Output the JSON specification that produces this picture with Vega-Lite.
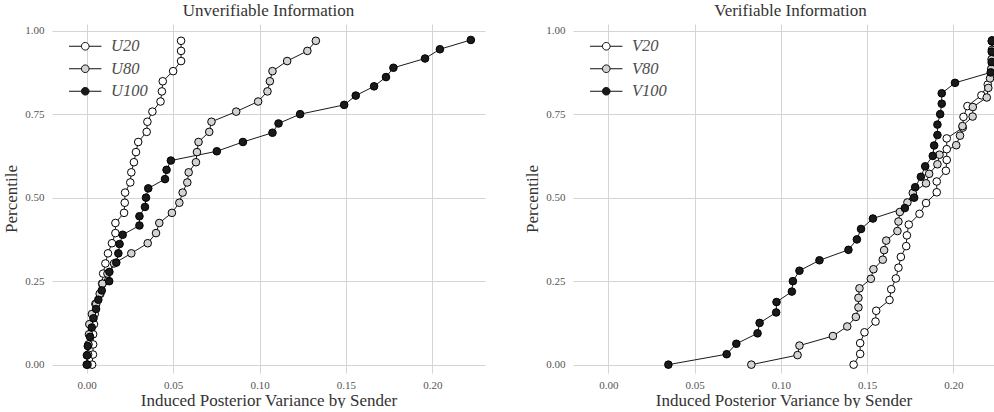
{
  "$schema": "https://vega.github.io/schema/vega-lite/v6.json",
  "background": "white",
  "padding": {"left": 2, "top": 2, "right": 0, "bottom": 0},
  "datasets": {
    "unver": [
      {"s": "U20", "x": 0.0031, "p": 0.0000}, {"s": "U20", "x": 0.0036, "p": 0.0303}, {"s": "U20", "x": 0.0037, "p": 0.0606},
      {"s": "U20", "x": 0.0037, "p": 0.0909}, {"s": "U20", "x": 0.0042, "p": 0.1212}, {"s": "U20", "x": 0.0046, "p": 0.1515},
      {"s": "U20", "x": 0.0050, "p": 0.1818}, {"s": "U20", "x": 0.0079, "p": 0.2121}, {"s": "U20", "x": 0.0089, "p": 0.2424},
      {"s": "U20", "x": 0.0095, "p": 0.2727}, {"s": "U20", "x": 0.0108, "p": 0.3030}, {"s": "U20", "x": 0.0123, "p": 0.3333},
      {"s": "U20", "x": 0.0146, "p": 0.3636}, {"s": "U20", "x": 0.0166, "p": 0.3939}, {"s": "U20", "x": 0.0166, "p": 0.4242},
      {"s": "U20", "x": 0.0216, "p": 0.4545}, {"s": "U20", "x": 0.0220, "p": 0.4848}, {"s": "U20", "x": 0.0222, "p": 0.5152},
      {"s": "U20", "x": 0.0252, "p": 0.5455}, {"s": "U20", "x": 0.0258, "p": 0.5758}, {"s": "U20", "x": 0.0273, "p": 0.6061},
      {"s": "U20", "x": 0.0285, "p": 0.6364}, {"s": "U20", "x": 0.0298, "p": 0.6667}, {"s": "U20", "x": 0.0347, "p": 0.6970},
      {"s": "U20", "x": 0.0351, "p": 0.7273}, {"s": "U20", "x": 0.0380, "p": 0.7576}, {"s": "U20", "x": 0.0427, "p": 0.7879},
      {"s": "U20", "x": 0.0435, "p": 0.8182}, {"s": "U20", "x": 0.0440, "p": 0.8485}, {"s": "U20", "x": 0.0500, "p": 0.8788},
      {"s": "U20", "x": 0.0546, "p": 0.9091}, {"s": "U20", "x": 0.0546, "p": 0.9394}, {"s": "U20", "x": 0.0546, "p": 0.9697},
      {"s": "U80", "x": 0.0005, "p": 0.0000}, {"s": "U80", "x": 0.0008, "p": 0.0303}, {"s": "U80", "x": 0.0010, "p": 0.0606},
      {"s": "U80", "x": 0.0013, "p": 0.0909}, {"s": "U80", "x": 0.0015, "p": 0.1212}, {"s": "U80", "x": 0.0030, "p": 0.1515},
      {"s": "U80", "x": 0.0055, "p": 0.1818}, {"s": "U80", "x": 0.0075, "p": 0.2121}, {"s": "U80", "x": 0.0091, "p": 0.2424},
      {"s": "U80", "x": 0.0120, "p": 0.2727}, {"s": "U80", "x": 0.0158, "p": 0.3030}, {"s": "U80", "x": 0.0258, "p": 0.3333},
      {"s": "U80", "x": 0.0353, "p": 0.3636}, {"s": "U80", "x": 0.0401, "p": 0.3939}, {"s": "U80", "x": 0.0420, "p": 0.4242},
      {"s": "U80", "x": 0.0493, "p": 0.4545}, {"s": "U80", "x": 0.0536, "p": 0.4848}, {"s": "U80", "x": 0.0555, "p": 0.5152},
      {"s": "U80", "x": 0.0582, "p": 0.5455}, {"s": "U80", "x": 0.0590, "p": 0.5758}, {"s": "U80", "x": 0.0632, "p": 0.6061},
      {"s": "U80", "x": 0.0638, "p": 0.6364}, {"s": "U80", "x": 0.0647, "p": 0.6667}, {"s": "U80", "x": 0.0709, "p": 0.6970},
      {"s": "U80", "x": 0.0722, "p": 0.7273}, {"s": "U80", "x": 0.0865, "p": 0.7576}, {"s": "U80", "x": 0.0992, "p": 0.7879},
      {"s": "U80", "x": 0.1046, "p": 0.8182}, {"s": "U80", "x": 0.1060, "p": 0.8485}, {"s": "U80", "x": 0.1075, "p": 0.8788},
      {"s": "U80", "x": 0.1160, "p": 0.9091}, {"s": "U80", "x": 0.1277, "p": 0.9394}, {"s": "U80", "x": 0.1326, "p": 0.9697},
      {"s": "U100", "x": 0.0000, "p": 0.0000}, {"s": "U100", "x": 0.0001, "p": 0.0278}, {"s": "U100", "x": 0.0006, "p": 0.0556},
      {"s": "U100", "x": 0.0019, "p": 0.0833}, {"s": "U100", "x": 0.0029, "p": 0.1111}, {"s": "U100", "x": 0.0039, "p": 0.1389},
      {"s": "U100", "x": 0.0054, "p": 0.1667}, {"s": "U100", "x": 0.0067, "p": 0.1944}, {"s": "U100", "x": 0.0087, "p": 0.2222},
      {"s": "U100", "x": 0.0130, "p": 0.2500}, {"s": "U100", "x": 0.0131, "p": 0.2778}, {"s": "U100", "x": 0.0171, "p": 0.3056},
      {"s": "U100", "x": 0.0183, "p": 0.3333}, {"s": "U100", "x": 0.0190, "p": 0.3611}, {"s": "U100", "x": 0.0208, "p": 0.3889},
      {"s": "U100", "x": 0.0305, "p": 0.4167}, {"s": "U100", "x": 0.0305, "p": 0.4444}, {"s": "U100", "x": 0.0337, "p": 0.4722},
      {"s": "U100", "x": 0.0343, "p": 0.5000}, {"s": "U100", "x": 0.0356, "p": 0.5278}, {"s": "U100", "x": 0.0453, "p": 0.5556},
      {"s": "U100", "x": 0.0462, "p": 0.5833}, {"s": "U100", "x": 0.0487, "p": 0.6111}, {"s": "U100", "x": 0.0753, "p": 0.6389},
      {"s": "U100", "x": 0.0904, "p": 0.6667}, {"s": "U100", "x": 0.1075, "p": 0.6944}, {"s": "U100", "x": 0.1110, "p": 0.7222},
      {"s": "U100", "x": 0.1235, "p": 0.7500}, {"s": "U100", "x": 0.1490, "p": 0.7778}, {"s": "U100", "x": 0.1557, "p": 0.8056},
      {"s": "U100", "x": 0.1663, "p": 0.8333}, {"s": "U100", "x": 0.1732, "p": 0.8611}, {"s": "U100", "x": 0.1775, "p": 0.8889},
      {"s": "U100", "x": 0.1958, "p": 0.9167}, {"s": "U100", "x": 0.2044, "p": 0.9444}, {"s": "U100", "x": 0.2223, "p": 0.9722}
    ],
    "ver": [
      {"s": "V20", "x": 0.1422, "p": 0.0000}, {"s": "V20", "x": 0.1460, "p": 0.0323}, {"s": "V20", "x": 0.1460, "p": 0.0645},
      {"s": "V20", "x": 0.1485, "p": 0.0968}, {"s": "V20", "x": 0.1549, "p": 0.1290}, {"s": "V20", "x": 0.1553, "p": 0.1613},
      {"s": "V20", "x": 0.1630, "p": 0.1935}, {"s": "V20", "x": 0.1640, "p": 0.2258}, {"s": "V20", "x": 0.1667, "p": 0.2581},
      {"s": "V20", "x": 0.1682, "p": 0.2903}, {"s": "V20", "x": 0.1696, "p": 0.3226}, {"s": "V20", "x": 0.1727, "p": 0.3548},
      {"s": "V20", "x": 0.1731, "p": 0.3871}, {"s": "V20", "x": 0.1742, "p": 0.4194}, {"s": "V20", "x": 0.1804, "p": 0.4516},
      {"s": "V20", "x": 0.1842, "p": 0.4839}, {"s": "V20", "x": 0.1904, "p": 0.5161}, {"s": "V20", "x": 0.1904, "p": 0.5484},
      {"s": "V20", "x": 0.1957, "p": 0.5806}, {"s": "V20", "x": 0.1962, "p": 0.6129}, {"s": "V20", "x": 0.1962, "p": 0.6452},
      {"s": "V20", "x": 0.1962, "p": 0.6774}, {"s": "V20", "x": 0.2055, "p": 0.7097}, {"s": "V20", "x": 0.2059, "p": 0.7419},
      {"s": "V20", "x": 0.2082, "p": 0.7742}, {"s": "V20", "x": 0.2163, "p": 0.8065}, {"s": "V20", "x": 0.2200, "p": 0.8387},
      {"s": "V20", "x": 0.2222, "p": 0.8710}, {"s": "V20", "x": 0.2224, "p": 0.9032}, {"s": "V20", "x": 0.2225, "p": 0.9355},
      {"s": "V20", "x": 0.2225, "p": 0.9677},
      {"s": "V80", "x": 0.0829, "p": 0.0000}, {"s": "V80", "x": 0.1097, "p": 0.0286}, {"s": "V80", "x": 0.1108, "p": 0.0571},
      {"s": "V80", "x": 0.1302, "p": 0.0857}, {"s": "V80", "x": 0.1385, "p": 0.1143}, {"s": "V80", "x": 0.1435, "p": 0.1429},
      {"s": "V80", "x": 0.1450, "p": 0.1714}, {"s": "V80", "x": 0.1450, "p": 0.2000}, {"s": "V80", "x": 0.1456, "p": 0.2286},
      {"s": "V80", "x": 0.1522, "p": 0.2571}, {"s": "V80", "x": 0.1537, "p": 0.2857}, {"s": "V80", "x": 0.1591, "p": 0.3143},
      {"s": "V80", "x": 0.1599, "p": 0.3429}, {"s": "V80", "x": 0.1611, "p": 0.3714}, {"s": "V80", "x": 0.1676, "p": 0.4000},
      {"s": "V80", "x": 0.1682, "p": 0.4286}, {"s": "V80", "x": 0.1690, "p": 0.4571}, {"s": "V80", "x": 0.1734, "p": 0.4857},
      {"s": "V80", "x": 0.1765, "p": 0.5143}, {"s": "V80", "x": 0.1842, "p": 0.5429}, {"s": "V80", "x": 0.1860, "p": 0.5714},
      {"s": "V80", "x": 0.1908, "p": 0.6000}, {"s": "V80", "x": 0.1920, "p": 0.6286}, {"s": "V80", "x": 0.2017, "p": 0.6571},
      {"s": "V80", "x": 0.2039, "p": 0.6857}, {"s": "V80", "x": 0.2053, "p": 0.7143}, {"s": "V80", "x": 0.2112, "p": 0.7429},
      {"s": "V80", "x": 0.2113, "p": 0.7714}, {"s": "V80", "x": 0.2194, "p": 0.8000}, {"s": "V80", "x": 0.2203, "p": 0.8286},
      {"s": "V80", "x": 0.2213, "p": 0.8571}, {"s": "V80", "x": 0.2220, "p": 0.8857}, {"s": "V80", "x": 0.2222, "p": 0.9143},
      {"s": "V80", "x": 0.2224, "p": 0.9429}, {"s": "V80", "x": 0.2225, "p": 0.9714},
      {"s": "V100", "x": 0.0348, "p": 0.0000}, {"s": "V100", "x": 0.0686, "p": 0.0313}, {"s": "V100", "x": 0.0742, "p": 0.0625},
      {"s": "V100", "x": 0.0865, "p": 0.0938}, {"s": "V100", "x": 0.0877, "p": 0.1250}, {"s": "V100", "x": 0.0973, "p": 0.1563},
      {"s": "V100", "x": 0.0975, "p": 0.1875}, {"s": "V100", "x": 0.1064, "p": 0.2188}, {"s": "V100", "x": 0.1070, "p": 0.2500},
      {"s": "V100", "x": 0.1108, "p": 0.2813}, {"s": "V100", "x": 0.1224, "p": 0.3125}, {"s": "V100", "x": 0.1392, "p": 0.3438},
      {"s": "V100", "x": 0.1441, "p": 0.3750}, {"s": "V100", "x": 0.1465, "p": 0.4063}, {"s": "V100", "x": 0.1534, "p": 0.4375},
      {"s": "V100", "x": 0.1719, "p": 0.4688}, {"s": "V100", "x": 0.1773, "p": 0.5000}, {"s": "V100", "x": 0.1779, "p": 0.5313},
      {"s": "V100", "x": 0.1812, "p": 0.5625}, {"s": "V100", "x": 0.1837, "p": 0.5938}, {"s": "V100", "x": 0.1881, "p": 0.6250},
      {"s": "V100", "x": 0.1889, "p": 0.6563}, {"s": "V100", "x": 0.1908, "p": 0.6875}, {"s": "V100", "x": 0.1908, "p": 0.7188},
      {"s": "V100", "x": 0.1924, "p": 0.7500}, {"s": "V100", "x": 0.1933, "p": 0.7813}, {"s": "V100", "x": 0.1933, "p": 0.8125},
      {"s": "V100", "x": 0.2010, "p": 0.8438}, {"s": "V100", "x": 0.2217, "p": 0.8750}, {"s": "V100", "x": 0.2223, "p": 0.9063},
      {"s": "V100", "x": 0.2223, "p": 0.9375}, {"s": "V100", "x": 0.2223, "p": 0.9688}
    ]
  },
  "spacing": 38,
  "hconcat": [
    {
      "width": 433,
      "height": 349,
      "title": {"text": "Unverifiable Information"},
      "data": {"name": "unver"},
      "layer": [
        {
          "mark": {"type": "line", "color": "#1a1a1a", "strokeWidth": 1, "clip": true},
          "encoding": {
            "x": {"field": "x", "type": "quantitative"},
            "y": {"field": "p", "type": "quantitative"},
            "detail": {"field": "s"},
            "order": {"field": "p"}
          }
        },
        {
          "mark": {"type": "point", "filled": true, "size": 58, "stroke": "black", "strokeWidth": 1, "opacity": 1, "clip": true},
          "encoding": {
            "x": {"field": "x", "type": "quantitative", "scale": {"domain": [-0.0201, 0.2305], "nice": false, "zero": false},
              "axis": {"values": [0, 0.05, 0.1, 0.15, 0.2], "format": ".2f", "title": "Induced Posterior Variance by Sender", "labelPadding": 6, "titlePadding": 2}},
            "y": {"field": "p", "type": "quantitative", "scale": {"domain": [-0.025, 1.02], "nice": false, "zero": false},
              "axis": {"values": [0, 0.25, 0.5, 0.75, 1], "format": ".2f", "title": "Percentile"}},
            "fill": {"field": "s", "type": "nominal", "sort": ["U20", "U80", "U100"],
              "scale": {"domain": ["U20", "U80", "U100"], "range": ["#ffffff", "#d3d3d3", "#1a1a1a"]},
              "legend": {"title": null, "orient": "none", "legendX": 25, "legendY": 14}}
          }
        }
      ]
    },
    {
      "width": 421,
      "height": 349,
      "title": {"text": "Verifiable Information", "dx": 7},
      "data": {"name": "ver"},
      "layer": [
        {
          "mark": {"type": "line", "color": "#1a1a1a", "strokeWidth": 1, "clip": true},
          "encoding": {
            "x": {"field": "x", "type": "quantitative"},
            "y": {"field": "p", "type": "quantitative"},
            "detail": {"field": "s"},
            "order": {"field": "p"}
          }
        },
        {
          "mark": {"type": "point", "filled": true, "size": 58, "stroke": "black", "strokeWidth": 1, "opacity": 1, "clip": true},
          "encoding": {
            "x": {"field": "x", "type": "quantitative", "scale": {"domain": [-0.0205, 0.2236], "nice": false, "zero": false},
              "axis": {"values": [0, 0.05, 0.1, 0.15, 0.2], "format": ".2f", "title": "Induced Posterior Variance by Sender", "labelPadding": 6, "titlePadding": 2}},
            "y": {"field": "p", "type": "quantitative", "scale": {"domain": [-0.025, 1.02], "nice": false, "zero": false},
              "axis": {"values": [0, 0.25, 0.5, 0.75, 1], "format": ".2f", "title": "Percentile"}},
            "fill": {"field": "s", "type": "nominal", "sort": ["V20", "V80", "V100"],
              "scale": {"domain": ["V20", "V80", "V100"], "range": ["#ffffff", "#d3d3d3", "#1a1a1a"]},
              "legend": {"title": null, "orient": "none", "legendX": 25, "legendY": 14}}
          }
        }
      ]
    }
  ],
  "resolve": {"scale": {"fill": "independent", "x": "independent", "y": "independent"}, "legend": {"fill": "independent"}},
  "config": {
    "view": {"stroke": null},
    "font": "Liberation Serif",
    "title": {"font": "Liberation Serif", "fontSize": 17, "fontWeight": "normal", "color": "#333333", "offset": 4, "anchor": "middle"},
    "axis": {
      "domain": false, "ticks": false, "grid": true, "gridColor": "#d4d4d4", "gridWidth": 1,
      "labelFont": "Liberation Serif", "labelFontSize": 11, "labelColor": "#555555", "labelPadding": 8,
      "titleFont": "Liberation Serif", "titleFontSize": 17, "titleFontWeight": "normal", "titleColor": "#333333", "titlePadding": 4
    },
    "legend": {
      "padding": 0,
      "symbolType": "M-3.6,0H-0.85M0.85,0H3.6M0.85,0A0.85,0.85,0,1,1,-0.85,0A0.85,0.85,0,1,1,0.85,0Z",
      "symbolSize": 81,
      "symbolStrokeColor": "#111111",
      "symbolStrokeWidth": 1,
      "symbolOpacity": 1,
      "labelFont": "Liberation Serif",
      "labelFontStyle": "italic",
      "labelFontSize": 16.5,
      "labelColor": "#4d4d4d",
      "labelOffset": 17.5,
      "rowPadding": 5.5
    }
  }
}
